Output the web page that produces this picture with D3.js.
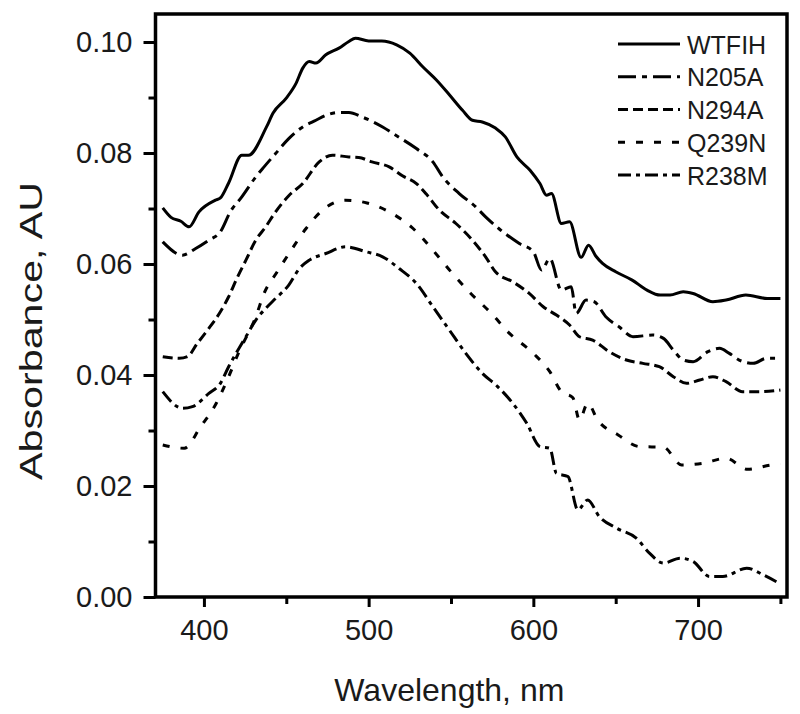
<!DOCTYPE html>
<html>
<head>
<meta charset="utf-8">
<script src="https://cdn.jsdelivr.net/npm/d3@7"></script>
<style>
  html, body { margin: 0; padding: 0; background: #fff; }
  svg { display: block; }
  text { font-family: "Liberation Sans", Arial, sans-serif; fill: #1a1a1a; }
</style>
</head>
<body>
<svg id="chart" width="800" height="714"></svg>
<script>
// ---- data (wavelength nm, absorbance AU) ----
const seriesNames = ["WTFIH", "N205A", "N294A", "Q239N", "R238M"];
const xTicks = [400, 500, 600, 700];
const xMinorTicks = [450, 550, 650, 750];
const yTicks = [0.00, 0.02, 0.04, 0.06, 0.08, 0.10];
const yMinorTicks = [0.01, 0.03, 0.05, 0.07, 0.09];

const wtfih = [[375,0.0701],[380,0.0684],[386,0.0677],[391,0.0667],[397,0.0694],[407,0.0715],[410,0.0719],[415,0.0746],[423,0.0796],[427,0.0796],[438,0.0847],[442,0.0872],[450,0.0899],[456,0.0926],[460,0.0953],[464,0.0965],[468,0.0962],[474,0.0977],[482,0.0989],[488,0.1001],[492,0.1007],[500,0.1002],[508,0.1002],[517,0.0995],[525,0.0980],[533,0.0955],[541,0.0932],[549,0.0905],[557,0.0877],[563,0.0859],[569,0.0856],[577,0.0845],[583,0.0829],[590,0.0793],[598,0.0769],[604,0.0745],[608,0.0724],[611,0.0727],[617,0.0673],[622,0.0676],[629,0.0612],[633.5,0.0634],[638,0.0614],[642,0.0601],[650,0.0586],[660,0.0571],[669,0.0553],[677,0.0544],[683,0.0544],[691,0.0550],[697,0.0547],[709,0.0532],[717,0.0535],[729,0.0544],[742,0.0538],[750,0.0538]];

const n205a = [[375,0.0640],[387,0.0616],[395,0.0628],[403,0.0643],[410,0.0658],[416,0.0694],[423,0.0721],[431.5,0.0757],[436.5,0.0775],[443.5,0.0799],[451.5,0.0826],[460,0.0847],[468,0.0859],[474,0.0868],[482,0.0873],[488,0.0873],[496,0.0865],[508.5,0.0847],[516.5,0.0832],[529,0.0808],[539,0.0784],[545,0.0757],[555,0.0727],[565,0.0703],[571,0.0685],[579,0.0664],[591.5,0.0637],[600,0.0622],[605,0.0589],[610,0.0610],[617,0.0553],[623,0.0559],[626,0.0511],[632,0.0535],[637,0.0532],[644,0.0505],[652,0.0487],[660.5,0.0469],[672.5,0.0472],[679,0.0466],[685,0.0445],[691,0.0427],[697,0.0424],[706,0.0442],[713,0.0448],[719,0.0439],[725,0.0427],[733.5,0.0421],[741.5,0.0430],[750,0.0430]];

const n294a = [[375,0.0433],[385,0.0430],[390,0.0433],[396,0.0457],[403,0.0484],[410,0.0514],[415,0.0541],[420,0.0574],[425.5,0.0607],[431.5,0.0643],[437.5,0.0667],[443.5,0.0694],[451.5,0.0723],[460,0.0745],[470,0.0784],[478,0.0796],[488,0.0793],[494,0.0792],[502,0.0784],[512.5,0.0775],[520.5,0.0759],[529,0.0745],[535,0.0726],[543,0.0697],[553,0.0673],[563,0.0643],[571,0.0613],[577,0.0586],[587.5,0.0568],[597.5,0.0547],[606,0.0523],[614,0.0508],[622,0.0490],[628,0.0469],[636,0.0463],[646,0.0442],[656.5,0.0427],[666.5,0.0421],[676.5,0.0415],[685,0.0397],[693,0.0385],[701,0.0391],[709,0.0397],[717,0.0388],[727,0.0370],[737.5,0.0370],[750,0.0373]];

const q239n = [[375,0.0274],[388,0.0268],[398,0.0307],[407.5,0.0349],[414,0.0390],[421,0.0440],[431.5,0.0505],[436.5,0.0547],[444.5,0.0586],[453,0.0625],[462,0.0664],[472,0.0697],[486,0.0715],[499,0.0710],[512.5,0.0694],[527,0.0664],[539,0.0625],[550,0.0586],[562,0.0547],[574.5,0.0511],[585.5,0.0475],[600,0.0439],[610,0.0406],[617,0.0370],[624,0.0359],[628,0.0319],[633,0.0349],[639,0.0319],[651.5,0.0292],[664.5,0.0271],[679,0.0270],[690,0.0238],[703,0.0241],[717,0.0250],[730,0.0230],[744.5,0.0238],[750,0.0240]];

const r238m = [[375,0.0370],[387,0.0340],[393,0.0343],[403,0.0367],[410,0.0385],[415,0.0415],[425.5,0.0469],[431.5,0.0499],[437.5,0.0520],[443.5,0.0538],[451.5,0.0562],[458,0.0592],[464,0.0607],[474,0.0619],[486,0.0631],[498.5,0.0622],[508.5,0.0613],[518.5,0.0592],[529,0.0565],[539,0.0523],[549,0.0481],[559,0.0439],[569,0.0403],[578,0.0380],[587.5,0.0349],[596,0.0313],[604,0.0271],[610,0.0268],[614,0.0223],[621,0.0217],[627,0.0157],[633,0.0175],[640,0.0145],[650.5,0.0124],[662.5,0.0106],[670.5,0.0079],[679,0.0061],[689,0.0070],[697,0.0064],[707,0.0037],[715,0.0037],[729.5,0.0052],[739.5,0.0040],[749,0.0025]];

const seriesData = [wtfih, n205a, n294a, q239n, r238m];
const dashes = ["none", "18,6,5,6", "10,5", "7,11", "13,5,4,5"];

// ---- layout ----
const margin = {left: 155.5, top: 14, right: 13, bottom: 117};
const W = 800, H = 714;
const iw = W - margin.left - margin.right;
const ih = H - margin.top - margin.bottom;

const svg = d3.select("#chart");
const g = svg.append("g").attr("transform", `translate(${margin.left},${margin.top})`);

const x = d3.scaleLinear().domain([370.6, 754]).range([0, iw]);
const y = d3.scaleLinear().domain([0, 0.10505]).range([ih, 0]);

// curves
const line = d3.line().x(d => x(d[0])).y(d => y(d[1])).curve(d3.curveMonotoneX);
seriesData.forEach((s, i) => {
  g.append("path")
    .datum(s)
    .attr("d", line)
    .attr("fill", "none")
    .attr("stroke", "#000")
    .attr("stroke-width", 3)
    .attr("stroke-dasharray", dashes[i]);
});

// axes
const xAxis = g.append("g").attr("transform", `translate(0,${ih})`)
  .call(d3.axisBottom(x).tickValues(xTicks).tickFormat(d3.format("d")).tickSize(10).tickPadding(12));
const xMinor = g.append("g").attr("transform", `translate(0,${ih})`)
  .call(d3.axisBottom(x).tickValues(xMinorTicks).tickFormat("").tickSize(7));
const yAxis = g.append("g")
  .call(d3.axisLeft(y).tickValues(yTicks).tickFormat(d3.format(".2f")).tickSize(12).tickPadding(11));
const yMinor = g.append("g")
  .call(d3.axisLeft(y).tickValues(yMinorTicks).tickFormat("").tickSize(7));

[xAxis, xMinor, yAxis, yMinor].forEach(a => {
  a.select(".domain").remove();
  a.selectAll(".tick line").attr("stroke", "#000").attr("stroke-width", 3);
});
xAxis.selectAll(".tick text").style("font-size", "29px").attr("fill", "#1a1a1a");
yAxis.selectAll(".tick text").style("font-size", "29px").attr("fill", "#1a1a1a");

// frame
g.append("rect")
  .attr("x", 0).attr("y", 0).attr("width", iw).attr("height", ih)
  .attr("fill", "none").attr("stroke", "#000").attr("stroke-width", 3.5);

// axis titles
svg.append("text")
  .attr("x", margin.left + x(549)).attr("y", 701)
  .attr("text-anchor", "middle")
  .style("font-size", "32px")
  .text("Wavelength, nm");

svg.append("text")
  .attr("transform", "translate(42,331) rotate(-90)")
  .attr("text-anchor", "middle")
  .attr("textLength", 298)
  .attr("lengthAdjust", "spacingAndGlyphs")
  .style("font-size", "32px")
  .text("Absorbance, AU");

// legend
const legendY0 = 44, legendStep = 32.75;
const lg = svg.append("g");
seriesNames.forEach((name, i) => {
  const ly = legendY0 + i * legendStep;
  lg.append("line")
    .attr("x1", 618).attr("x2", 680).attr("y1", ly).attr("y2", ly)
    .attr("stroke", "#000").attr("stroke-width", 3)
    .attr("stroke-dasharray", dashes[i]);
  lg.append("text")
    .attr("x", 687).attr("y", ly + 9.5)
    .style("font-size", "25px")
    .text(name);
});
</script>
</body>
</html>
